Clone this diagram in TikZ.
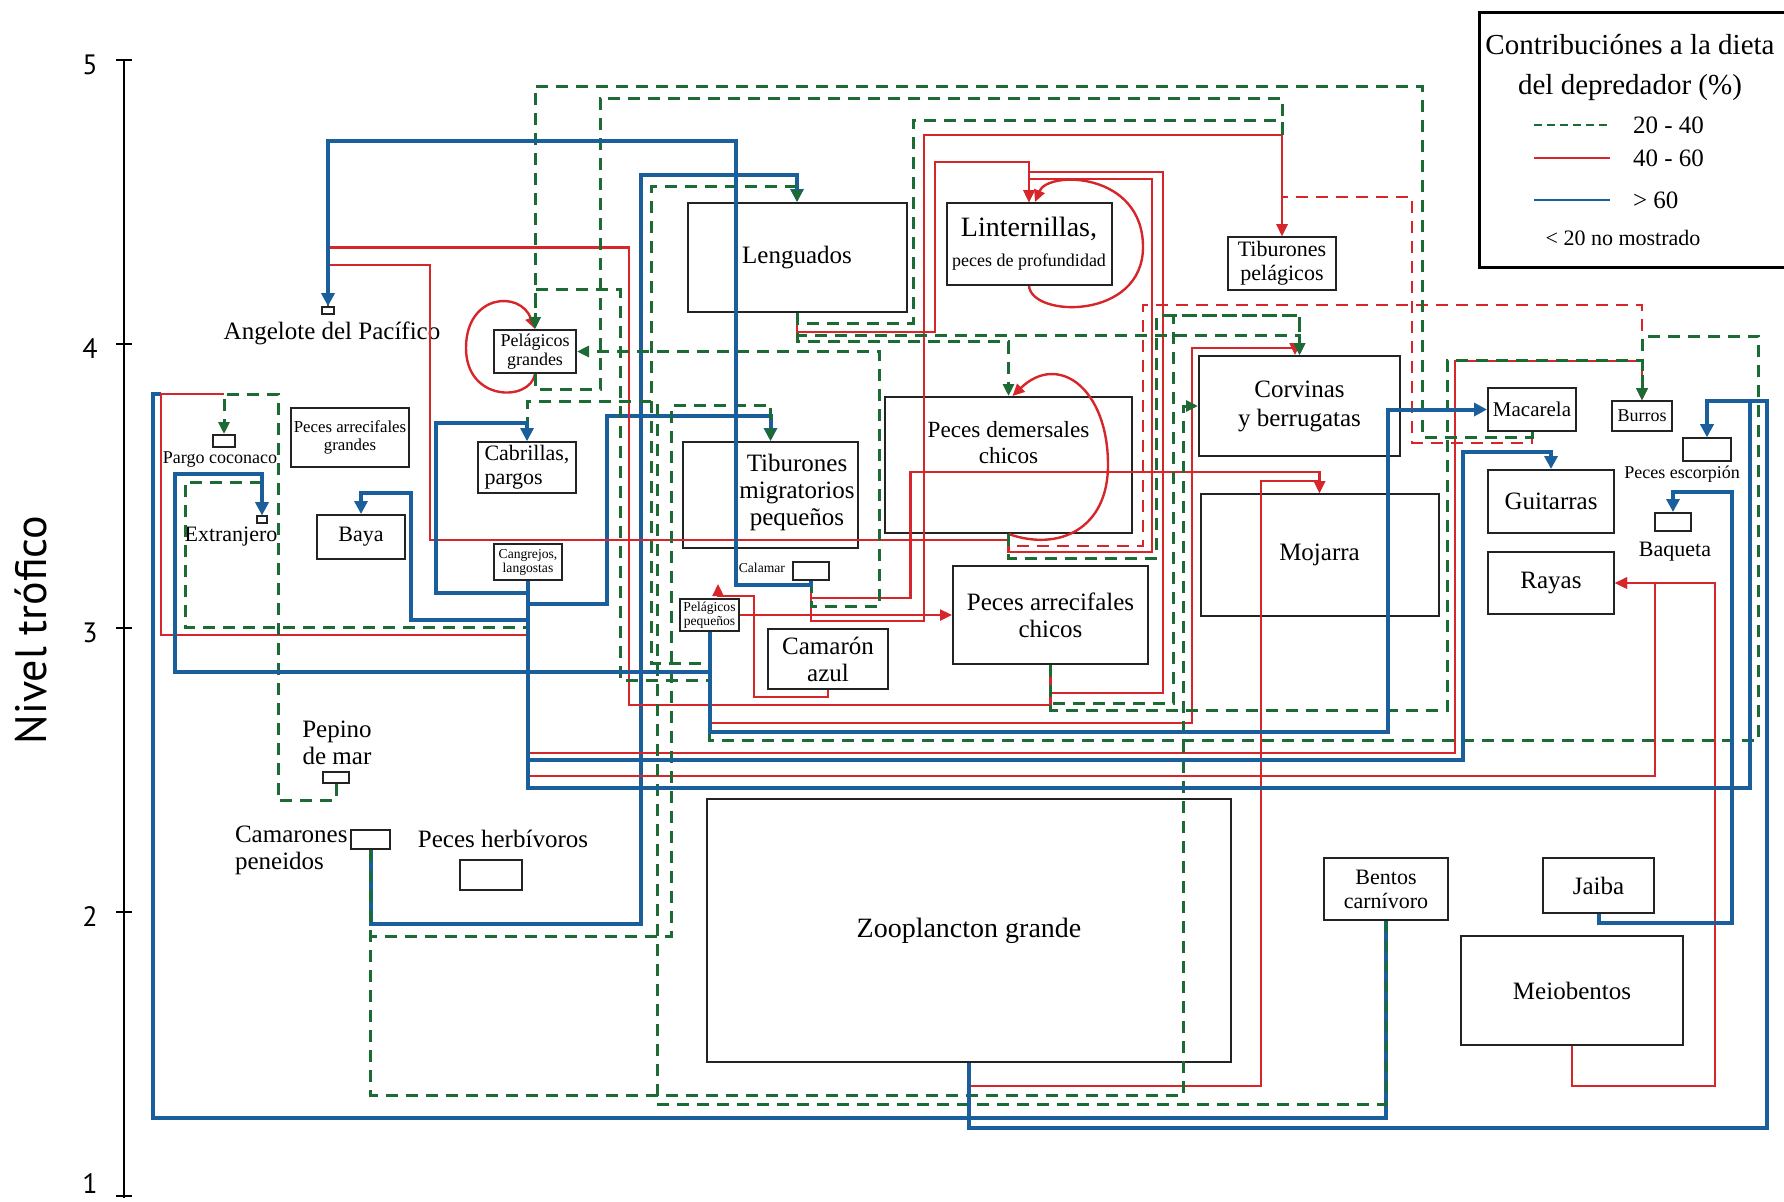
\documentclass[tikz,border=0pt]{standalone}
\usepackage{fontspec}
\setmainfont{Liberation Serif}
\newfontfamily\axisfont{PT Sans}
\usepackage{tikz}
\usetikzlibrary{arrows.meta, positioning}
\definecolor{bluec}{RGB}{27,94,156}
\definecolor{redc}{RGB}{214,38,42}
\definecolor{greenc}{RGB}{28,106,52}
\definecolor{boxc}{RGB}{35,35,35}

\begin{document}
\begin{tikzpicture}[
    x=0.5pt, y=-0.5pt,
    box/.style={draw=boxc, line width=1pt, inner sep=1pt, align=center},
    wd/.style={minimum width=#1*0.5pt},
    ht/.style={minimum height=#1*0.5pt},
    fXL/.style={font=\fontsize{14}{15}\selectfont},
    fL/.style={font=\fontsize{12.5}{13.5}\selectfont},
    fM/.style={font=\fontsize{11}{12}\selectfont},
    fS/.style={font=\fontsize{9}{9.5}\selectfont},
    fXS/.style={font=\fontsize{6.8}{7}\selectfont},
    bl/.style={draw=bluec, line width=2pt},
    rd/.style={draw=redc, line width=1.2pt},
    rdd/.style={draw=redc, line width=1.2pt, dash pattern=on 6pt off 4pt},
    gr/.style={draw=greenc, line width=1.5pt, dash pattern=on 6pt off 4pt},
    arr/.style={-{Triangle[length=6pt, width=5.5pt]}},
    barr/.style={-{Triangle[length=6.5pt, width=6.5pt]}},
    axl/.style={font=\axisfont\fontsize{14}{14}\selectfont}
]
\useasboundingbox (0,0) rectangle (1784,1201);

% axis
\draw[line width=1pt] (124,60) -- (124,1198);
\foreach \v/\y/\ly in {5/60/65, 4/344/349, 3/628/633, 2/912/917, 1/1196/1184} {
    \draw[line width=1pt] (116,\y) -- (132,\y);
    \node[axl] (lev\v) at (90,\ly) {\v};
}
\node[font=\axisfont\fontsize{22}{22}\selectfont, rotate=90] (ylab) at (31,630) {Nivel trófico};

% groups
\node[box, wd=219, ht=109, fL] (leng) at (797,257.5) {Lenguados};
\node[box, wd=165, ht=82, fXL] (lint) at (1029,244) {Linternillas,\\{\fontsize{9}{10}\selectfont peces de profundidad}};
\node[box, wd=108, ht=53, fM] (tibpel) at (1282,263.5) {Tiburones\\pelágicos};
\node[box, wd=12, ht=7, inner sep=0pt, line width=0.8pt] (angel) at (328,310.5) {};
\node[fL] (angelT) at (332,333) {Angelote del Pacífico};
\node[box, wd=82, ht=43, fS] (pelgr) at (535,351.5) {Pelágicos\\grandes};
\node[box, wd=21.5, ht=12, inner sep=0pt] (pargo) at (224,441) {};
\node[fS] (pargoT) at (220,460) {Pargo coconaco};
\node[box, wd=10, ht=7, inner sep=0pt, line width=0.8pt] (extr) at (262,519.5) {};
\node[fM] (extrT) at (231,537) {Extranjero};
\node[box, wd=118.5, ht=59, font=\fontsize{8.4}{9}\selectfont] (arrgr) at (350,437.5) {Peces arrecifales\\grandes};
\node[box, wd=87.5, ht=44, fM] (baya) at (361,537) {Baya};
\node[box, wd=98.5, ht=51, fM, align=left] (cabr) at (527,467.5) {Cabrillas,\\pargos};
\node[box, wd=67.5, ht=36, fXS] (cang) at (528,562) {Cangrejos,\\langostas};
\node[box, wd=26.5, ht=11.5, inner sep=0pt] (pepino) at (336,777.5) {};
\node[fL, align=center] (pepinoT) at (337,743) {Pepino\\de mar};
\node[box, wd=39, ht=19, inner sep=0pt] (camp) at (370.5,839.5) {};
\node[fL, anchor=west, align=left] (campT) at (228,850) {Camarones\\peneidos};
\node[box, wd=62, ht=30, inner sep=0pt] (herb) at (491,875) {};
\node[fL] (herbT) at (503,839) {Peces herbívoros};
\node[box, wd=523.5, ht=263, fXL] (zoo) at (969,930.5) {Zooplancton grande};
\node[box, wd=124, ht=62, fM] (bent) at (1386,889) {Bentos\\carnívoro};
\node[box, wd=111, ht=55, fL] (jaiba) at (1598.5,885.5) {Jaiba};
\node[box, wd=222, ht=109, fL] (meio) at (1572,990.5) {Meiobentos};
\node[box, wd=175, ht=106] (tibmig) at (770.5,495) {};
\node[fL, align=center] (tibmigT) at (797,492) {Tiburones\\migratorios\\pequeños};
\node[box, wd=36.5, ht=18, inner sep=0pt] (calamar) at (811,571) {};
\node[fXS, anchor=east] (calamarT) at (792,568) {Calamar};
\node[box, wd=59, ht=32, fXS] (pelpeq) at (709.5,615) {Pelágicos\\pequeños};
\node[box, wd=119.5, ht=60, fL] (camaz) at (828,659) {Camarón\\azul};
\node[box, wd=247, ht=136] (demch) at (1008.5,465) {};
\node[font=\fontsize{11.6}{13}\selectfont, align=center] (demchT) at (1008.5,443) {Peces demersales\\chicos};
\node[box, wd=195, ht=98, fL] (arrch) at (1050.5,615) {Peces arrecifales\\chicos};
\node[box, wd=201, ht=100, fL] (corv) at (1299.5,406) {Corvinas\\[1pt]y berrugatas};
\node[box, wd=238, ht=122, fL] (moj) at (1319.5,555) {Mojarra};
\node[box, wd=88, ht=43, font=\fontsize{10.5}{11}\selectfont] (mac) at (1532,409.5) {Macarela};
\node[box, wd=60, ht=30, fS] (burros) at (1642,416) {Burros};
\node[box, wd=48, ht=23, inner sep=0pt] (esc) at (1707,449.5) {};
\node[fS] (escT) at (1682,474) {Peces escorpión};
\node[box, wd=36, ht=18, inner sep=0pt] (baq) at (1673,522) {};
\node[fM] (baqT) at (1675,552) {Baqueta};
\node[box, wd=126, ht=63, fL] (guit) at (1551,501.5) {Guitarras};
\node[box, wd=126, ht=62, fL] (rayas) at (1551,583) {Rayas};

% legend
\node[draw=black, line width=1.5pt, wd=321, ht=255] (legbox) at (1639.5,139.5) {};
\node[font=\fontsize{14.5}{20}\selectfont, align=center] (legT) at (1630,67) {Contribuciónes a la dieta\\del depredador (\%)};
\draw[draw=greenc, line width=1.3pt, dash pattern=on 4pt off 2.5pt] (1534,125) -- (1610,125);
\node[fL, anchor=west] (leg1) at (1626,125) {20 - 40};
\draw[rd] (1534,158) -- (1610,158);
\node[fL, anchor=west] (leg2) at (1626,158) {40 - 60};
\draw[draw=bluec, line width=1.4pt] (1534,200) -- (1610,200);
\node[fL, anchor=west] (leg3) at (1626,200) {> 60};
\node[fM] (leg4) at (1623,238) {< 20 no mostrado};

% junctions
\coordinate (pargoJ) at (224,394);
\coordinate (pargoB) at (160.7,394);
\coordinate (tibpelJ) at (1282,135);

% blue, under the rest
\draw[bl, barr] (camp.south) |- (641,924) |- (797,175) -- (leng.north);
\draw[bl, barr] (cang.south) |- (606.7,604) |- (770.5,415.7) -- (tibmig.north);
\draw[bl] (bent.south) |- (153,1118) |- (pargoB);

% red
\draw[rd] (arrch.south) |- (628.8,705) |- (328,247.5) -- (angel.north);
\draw[rd] (demch.south) |- (430,540) |- (328,265) -- (angel.north);
\draw[rd] (cang.south) |- (160.7,635) |- (pargoJ);
\draw[rd, arr] (camaz.south) |- (754,696.7) |- ([xshift=4.25pt, yshift=1pt]pelpeq.north) -- ++(0,-12);
\draw[rd, arr] (pelpeq.east) -- (arrch.west);
\draw[rd, arr] (calamar.south) |- (924,621) |- (1282,135) -- (tibpel.north);
\draw[rd, arr] (calamar.south) |- (910.6,598) |- (1319.5,472) -- (moj.north);
\draw[rd, arr] (zoo.south) |- (1261,1086) |- (1319.5,481) -- (moj.north);
\draw[rd, arr] (leng.south) |- (935,331.7) |- (1029,161.7) -- (lint.north);
\draw[rd, arr] (demch.south) |- (1152,551.7) |- (1029,179) -- (lint.north);
\draw[rd, arr] (arrch.south) |- (1163,693) |- (1029,171.7) -- (lint.north);
\draw[rd, arr] (pelpeq.south) |- (1191.7,723) |- (1295,348) -- ([xshift=-2.25pt]corv.north);
\draw[rd, arr] (cang.south) |- (1455,753) |- (1642,360.7) -- (burros.north);
\draw[rd, arr] (cang.south) |- (1655,776) |- (rayas.east);
\draw[rd, arr] (meio.south) |- (1715,1086) |- (rayas.east);

% self loops
\draw[rd, arr] (pelgr.south) .. controls (530,402) and (466,402) .. (466,348) .. controls (466,294) and (520,290) .. (pelgr.north);
\draw[rd, arr] (lint.south) .. controls (1032,318) and (1143,320) .. (1143,247) .. controls (1143,172) and (1048,170) .. ([xshift=3pt]lint.north);
\draw[rd, arr] (demch.south) .. controls (1060,552) and (1108,528) .. (1108,465) .. controls (1108,388) and (1058,352) .. ([xshift=2pt]demch.north);

% red dashed
\draw[rdd, arr] (demch.south) |- (1142.7,546) |- (1642,305) -- (burros.north);
\draw[rdd, arr] (mac.south) |- (1412,442.7) |- (1282,197) -- (tibpel.north);

% green dashed
\draw[gr, arr] (mac.south) |- (1422,437) |- (535,86) -- (pelgr.north);
\draw[gr, arr] (pelpeq.south) |- (620,680) |- (535,289.3) -- (pelgr.north);
\draw[gr, arr] (calamar.south) |- (879.5,606.7) |- (pelgr.east);
\draw[gr] (pelgr.south) |- (600,389.3) |- (1282,98) -- (tibpelJ);
\draw[gr] (leng.south) |- (913,323) |- (1282,120) -- (tibpelJ);
\draw[gr, arr] (leng.south) |- (1008.5,341.7) -- (demch.north);
\draw[gr, arr] (leng.south) |- (1299.5,335) -- (corv.north);
\draw[gr, arr] (demch.south) |- (1156.7,558) |- (1299.5,315) -- (corv.north);
\draw[gr, arr] (arrch.south) |- (1173,703) |- (1299.5,315) -- (corv.north);
\draw[gr, arr] (camp.south) |- (1183,1095) |- (corv.west);
\draw[gr, arr] (camp.south) |- (671.6,936) |- (770.5,405) -- (tibmig.north);
\draw[gr, arr] (pelpeq.south) |- (651,663) |- (797,186) -- (leng.north);
\draw[gr, arr] (bent.south) |- (657,1104) |- (527,401.7) -- (cabr.north);
\draw[gr, arr] (arrch.south) |- (1447,710) |- (1642,360.7) -- (burros.north);
\draw[gr, arr] (pelpeq.south) |- (1758.5,740) |- (1642,336) -- (burros.north);
\draw[gr, arr] (cang.south) |- (185,627.7) |- (262,482.7) -- (extr.north);
\draw[gr, arr] (pepino.south) |- (278.6,800.7) |- (pargoJ) -- (pargo.north);

% blue on top
\draw[bl, barr] (calamar.south) |- (735.7,585) |- (328,141) -- (angel.north);
\draw[bl, barr] (cang.south) |- (436,593) |- (527,423) -- (cabr.north);
\draw[bl, barr] (cang.south) |- (411,620) |- (361,492.7) -- (baya.north);
\draw[bl, barr] (cang.south) |- (1462.5,760) |- (1551,451.7) -- (guit.north);
\draw[bl, barr] (cang.south) |- (1750,787.7) |- (1707,401) -- (esc.north);
\draw[bl, barr] (zoo.south) |- (1767,1128) |- (1707,401) -- (esc.north);
\draw[bl, barr] (jaiba.south) |- (1732,922.7) |- (1673,492) -- (baq.north);
\draw[bl, barr] (pelpeq.south) |- (1388,732) |- (mac.west);
\draw[bl, barr] (pelpeq.south) |- (175,671.7) |- (262,474) -- (extr.north);

\end{tikzpicture}
\end{document}
